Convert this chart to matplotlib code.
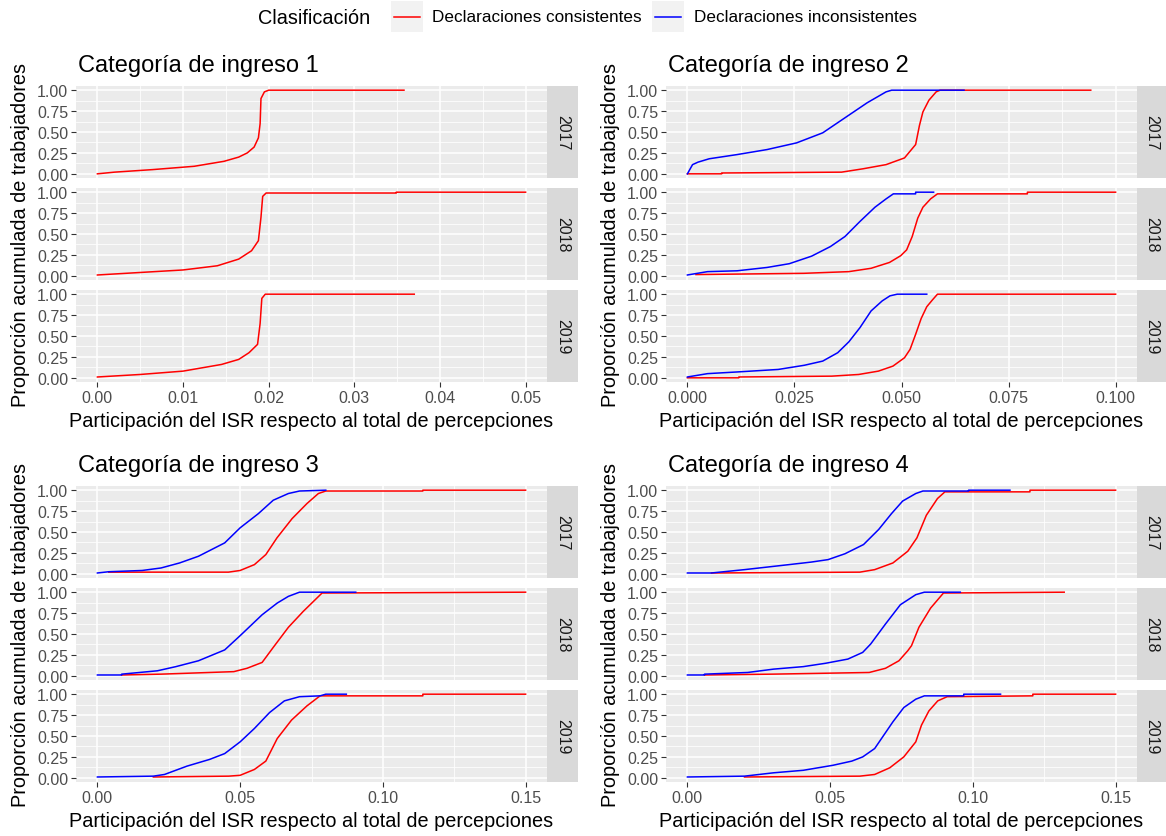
import matplotlib.pyplot as plt
from matplotlib.patches import Rectangle
from matplotlib.lines import Line2D
import numpy as np

plt.rcParams['font.family'] = ['Liberation Sans', 'DejaVu Sans']

years = ['2017', '2018', '2019']
categories = ['Categoría de ingreso 1', 'Categoría de ingreso 2',
              'Categoría de ingreso 3', 'Categoría de ingreso 4']
series_labels = ['Declaraciones consistentes', 'Declaraciones inconsistentes']
series_colors = ['#FF0000', '#0000FF']
legend_title = 'Clasificación'
xlabel = 'Participación del ISR respecto al total de percepciones'
ylabel = 'Proporción acumulada de trabajadores'

x_ticks = [[0.00, 0.01, 0.02, 0.03, 0.04, 0.05],
           [0.000, 0.025, 0.050, 0.075, 0.100],
           [0.00, 0.05, 0.10, 0.15],
           [0.00, 0.05, 0.10, 0.15]]
x_tick_labels = [['0.00', '0.01', '0.02', '0.03', '0.04', '0.05'],
                 ['0.000', '0.025', '0.050', '0.075', '0.100'],
                 ['0.00', '0.05', '0.10', '0.15'],
                 ['0.00', '0.05', '0.10', '0.15']]
y_ticks = [0.0, 0.25, 0.5, 0.75, 1.0]
y_tick_labels = ['0.00', '0.25', '0.50', '0.75', '1.00']

# --- cumulative curves ---
# categoria 1 (only consistent declarations)
c1_2017_cons_x = [0, 0.002, 0.0064, 0.0113, 0.0148, 0.0165, 0.0175, 0.0183, 0.0188, 0.019, 0.0191, 0.0195, 0.02, 0.0358]
c1_2017_cons_y = [0, 0.02, 0.05, 0.09, 0.15, 0.2, 0.25, 0.32, 0.43, 0.6, 0.9, 0.98, 1.0, 1.0]
c1_2018_cons_x = [0, 0.005, 0.01, 0.014, 0.0165, 0.018, 0.0188, 0.0191, 0.0193, 0.0197, 0.0349, 0.0349, 0.05]
c1_2018_cons_y = [0.01, 0.04, 0.07, 0.12, 0.2, 0.3, 0.42, 0.7, 0.95, 0.99, 0.99, 1.0, 1.0]
c1_2019_cons_x = [0, 0.005, 0.01, 0.0145, 0.0165, 0.0177, 0.0187, 0.019, 0.0192, 0.0196, 0.037]
c1_2019_cons_y = [0.01, 0.04, 0.08, 0.16, 0.22, 0.3, 0.4, 0.65, 0.95, 1.0, 1.0]

# categoria 2
c2_2017_cons_x = [0, 0.008, 0.008, 0.036, 0.041, 0.0464, 0.0507, 0.0533, 0.0542, 0.055, 0.0564, 0.0581, 0.059, 0.0942]
c2_2017_cons_y = [0, 0, 0.01, 0.02, 0.06, 0.11, 0.19, 0.35, 0.58, 0.74, 0.88, 0.98, 1.0, 1.0]
c2_2017_inc_x = [0, 0.0012, 0.0025, 0.0051, 0.0116, 0.0186, 0.0255, 0.0316, 0.0368, 0.042, 0.0464, 0.0477, 0.0646]
c2_2017_inc_y = [0, 0.11, 0.14, 0.18, 0.23, 0.29, 0.37, 0.49, 0.67, 0.85, 0.98, 1.0, 1.0]
c2_2018_cons_x = [0.002, 0.0272, 0.0377, 0.0429, 0.0472, 0.0498, 0.0512, 0.0525, 0.0538, 0.055, 0.0568, 0.0584, 0.0794, 0.0794, 0.1]
c2_2018_cons_y = [0.015, 0.03, 0.05, 0.09, 0.16, 0.24, 0.31, 0.47, 0.69, 0.82, 0.92, 0.98, 0.98, 1.0, 1.0]
c2_2018_inc_x = [0, 0.0047, 0.0116, 0.0186, 0.0238, 0.029, 0.0334, 0.0368, 0.0403, 0.0438, 0.0464, 0.0481, 0.0533, 0.0533, 0.0575]
c2_2018_inc_y = [0.01, 0.05, 0.06, 0.1, 0.145, 0.235, 0.35, 0.47, 0.65, 0.82, 0.92, 0.98, 0.98, 1.0, 1.0]
c2_2019_cons_x = [0, 0.012, 0.012, 0.0337, 0.04, 0.0446, 0.048, 0.0507, 0.052, 0.0533, 0.0546, 0.0559, 0.0572, 0.0584, 0.1]
c2_2019_cons_y = [0, 0, 0.01, 0.02, 0.04, 0.08, 0.14, 0.24, 0.34, 0.52, 0.71, 0.85, 0.93, 1.0, 1.0]
c2_2019_inc_x = [0, 0.0047, 0.0116, 0.0212, 0.0273, 0.0316, 0.0351, 0.0377, 0.0403, 0.0429, 0.0455, 0.0473, 0.049, 0.0559]
c2_2019_inc_y = [0.01, 0.05, 0.07, 0.1, 0.15, 0.2, 0.3, 0.43, 0.6, 0.8, 0.92, 0.98, 1.0, 1.0]

# categoria 3
c3_2017_cons_x = [0.004, 0.0459, 0.05, 0.055, 0.059, 0.0629, 0.0682, 0.0734, 0.0774, 0.08, 0.114, 0.114, 0.15]
c3_2017_cons_y = [0.02, 0.02, 0.04, 0.11, 0.23, 0.43, 0.66, 0.84, 0.96, 0.99, 0.99, 1.0, 1.0]
c3_2017_inc_x = [0, 0.004, 0.0157, 0.0223, 0.0288, 0.0354, 0.0446, 0.05, 0.0564, 0.0616, 0.0669, 0.0708, 0.08]
c3_2017_inc_y = [0.01, 0.025, 0.04, 0.07, 0.13, 0.21, 0.37, 0.55, 0.72, 0.88, 0.96, 0.99, 1.0]
c3_2018_cons_x = [0.0085, 0.0223, 0.0478, 0.0524, 0.0577, 0.0616, 0.0669, 0.0721, 0.0787, 0.15]
c3_2018_cons_y = [0.01, 0.02, 0.05, 0.09, 0.16, 0.34, 0.58, 0.77, 0.99, 1.0]
c3_2018_inc_x = [0, 0.0085, 0.0085, 0.021, 0.0275, 0.0354, 0.0446, 0.05, 0.0577, 0.063, 0.0669, 0.0708, 0.0905]
c3_2018_inc_y = [0.01, 0.01, 0.02, 0.06, 0.11, 0.18, 0.31, 0.48, 0.73, 0.87, 0.95, 1.0, 1.0]
c3_2019_cons_x = [0.0196, 0.046, 0.05, 0.055, 0.059, 0.063, 0.068, 0.0734, 0.078, 0.114, 0.114, 0.15]
c3_2019_cons_y = [0.01, 0.02, 0.03, 0.1, 0.2, 0.47, 0.69, 0.86, 0.98, 0.98, 1.0, 1.0]
c3_2019_inc_x = [0, 0.0196, 0.0235, 0.0314, 0.0393, 0.0446, 0.05, 0.055, 0.0603, 0.0655, 0.0708, 0.078, 0.08, 0.0872]
c3_2019_inc_y = [0.01, 0.02, 0.04, 0.14, 0.22, 0.29, 0.43, 0.59, 0.78, 0.92, 0.97, 0.98, 1.0, 1.0]

# categoria 4
c4_2017_cons_x = [0.0084, 0.0604, 0.0656, 0.072, 0.0772, 0.0804, 0.0837, 0.0876, 0.0902, 0.12, 0.12, 0.15]
c4_2017_cons_y = [0.01, 0.02, 0.05, 0.13, 0.27, 0.43, 0.70, 0.90, 0.98, 0.98, 1.0, 1.0]
c4_2017_inc_x = [0, 0.0084, 0.02, 0.033, 0.0433, 0.0493, 0.0552, 0.0617, 0.067, 0.0715, 0.0754, 0.08, 0.0825, 0.0985, 0.0985, 0.113]
c4_2017_inc_y = [0.01, 0.01, 0.05, 0.1, 0.14, 0.17, 0.24, 0.35, 0.53, 0.72, 0.87, 0.96, 0.99, 0.99, 1.0, 1.0]
c4_2018_cons_x = [0.006, 0.0298, 0.0637, 0.0694, 0.0741, 0.0772, 0.0785, 0.0811, 0.0852, 0.0897, 0.132]
c4_2018_cons_y = [0.01, 0.02, 0.04, 0.09, 0.18, 0.30, 0.36, 0.58, 0.81, 0.99, 1.0]
c4_2018_inc_x = [0, 0.006, 0.006, 0.0211, 0.0302, 0.0406, 0.0484, 0.0562, 0.0614, 0.0642, 0.0694, 0.0746, 0.08, 0.083, 0.0956]
c4_2018_inc_y = [0.01, 0.01, 0.02, 0.04, 0.08, 0.11, 0.15, 0.2, 0.28, 0.38, 0.62, 0.85, 0.97, 1.0, 1.0]
c4_2019_cons_x = [0.02, 0.0604, 0.0656, 0.0709, 0.0758, 0.08, 0.082, 0.0846, 0.0877, 0.091, 0.121, 0.121, 0.15]
c4_2019_cons_y = [0.01, 0.02, 0.04, 0.12, 0.25, 0.43, 0.63, 0.80, 0.92, 0.97, 0.98, 1.0, 1.0]
c4_2019_inc_x = [0, 0.02, 0.0302, 0.0406, 0.051, 0.0576, 0.0614, 0.0656, 0.0688, 0.072, 0.0758, 0.08, 0.083, 0.0968, 0.0968, 0.1097]
c4_2019_inc_y = [0.01, 0.02, 0.06, 0.09, 0.15, 0.2, 0.25, 0.35, 0.51, 0.67, 0.84, 0.94, 0.98, 0.98, 1.0, 1.0]

# [category][year] -> list of (series index, x, y)
curves = [
    [[(0, c1_2017_cons_x, c1_2017_cons_y)],
     [(0, c1_2018_cons_x, c1_2018_cons_y)],
     [(0, c1_2019_cons_x, c1_2019_cons_y)]],
    [[(0, c2_2017_cons_x, c2_2017_cons_y), (1, c2_2017_inc_x, c2_2017_inc_y)],
     [(0, c2_2018_cons_x, c2_2018_cons_y), (1, c2_2018_inc_x, c2_2018_inc_y)],
     [(0, c2_2019_cons_x, c2_2019_cons_y), (1, c2_2019_inc_x, c2_2019_inc_y)]],
    [[(0, c3_2017_cons_x, c3_2017_cons_y), (1, c3_2017_inc_x, c3_2017_inc_y)],
     [(0, c3_2018_cons_x, c3_2018_cons_y), (1, c3_2018_inc_x, c3_2018_inc_y)],
     [(0, c3_2019_cons_x, c3_2019_cons_y), (1, c3_2019_inc_x, c3_2019_inc_y)]],
    [[(0, c4_2017_cons_x, c4_2017_cons_y), (1, c4_2017_inc_x, c4_2017_inc_y)],
     [(0, c4_2018_cons_x, c4_2018_cons_y), (1, c4_2018_inc_x, c4_2018_inc_y)],
     [(0, c4_2019_cons_x, c4_2019_cons_y), (1, c4_2019_inc_x, c4_2019_inc_y)]],
]

W, H = 1166, 837
fig = plt.figure(figsize=(W / 100, H / 100), dpi=100)


def box(x0, y0, x1, y1):
    return [x0 / W, 1 - y1 / H, (x1 - x0) / W, (y1 - y0) / H]


# pixel layout: (plot left, plot right, strip right) and rows
cols = [(76, 547, 578), (666, 1137, 1166)]
rows = [[(87, 179), (189, 281), (291, 383)],
        [(487, 579), (589, 681), (691, 783)]]

TICK = 11.5
for k, cat in enumerate(categories):
    r, c = divmod(k, 2)
    x0, x1, xs = cols[c]
    allx = [v for yr in curves[k] for _, xx, _ in yr for v in xx]
    lo, hi = min(allx), max(allx)
    pad = 0.05 * (hi - lo)
    ticks = x_ticks[k]
    step = ticks[1] - ticks[0]
    minor = [t + step / 2 for t in ticks[:-1]]
    for j, year in enumerate(years):
        y0, y1 = rows[r][j]
        ax = fig.add_axes(box(x0, y0, x1, y1))
        ax.set_facecolor('#EBEBEB')
        for s in ax.spines.values():
            s.set_visible(False)
        ax.set_xlim(lo - pad, hi + pad)
        ax.set_ylim(-0.05, 1.05)
        ax.set_xticks(ticks)
        ax.set_xticks(minor, minor=True)
        ax.set_yticks(y_ticks)
        ax.set_yticks([0.125, 0.375, 0.625, 0.875], minor=True)
        ax.grid(which='major', color='white', linewidth=1.1)
        ax.grid(which='minor', color='white', linewidth=0.55)
        ax.set_axisbelow(True)
        ax.set_yticklabels(y_tick_labels)
        ax.tick_params(which='minor', length=0)
        ax.tick_params(which='major', length=3.6, width=0.8, color='#333333',
                       labelsize=TICK, labelcolor='#4D4D4D', pad=2)
        if j == 2:
            ax.set_xticklabels(x_tick_labels[k])
        else:
            ax.tick_params(axis='x', which='major', length=0, labelbottom=False)
        for si, xx, yy in curves[k][j]:
            ax.plot(xx, yy, color=series_colors[si], linewidth=1.1)

        sax = fig.add_axes(box(x1, y0, xs, y1))
        sax.set_facecolor('#D9D9D9')
        sax.set_xticks([])
        sax.set_yticks([])
        for s in sax.spines.values():
            s.set_visible(False)
        sax.text(0.5, 0.5, year, rotation=270, ha='center', va='center',
                 transform=sax.transAxes, fontsize=TICK, color='#1A1A1A')

    ytop = rows[r][0][0]
    fig.text((x0 + 2) / W, 1 - (ytop - 15) / H, cat, fontsize=17,
             ha='left', va='baseline', color='black')
    fig.text((x0 + x1) / 2 / W, 1 - (rows[r][2][1] + 44) / H, xlabel,
             fontsize=14.3, ha='center', va='baseline', color='black')
    fig.text((x0 - 55) / W, 1 - (rows[r][0][0] + rows[r][2][1]) / 2 / H, ylabel,
             fontsize=14.3, rotation=90, ha='center', va='center', color='black')

# legend on top
fig.text(258 / W, 1 - 18 / H, legend_title, fontsize=14.3, ha='left', va='center')
key_x = [391, 652]
text_x = [432, 694]
for i, lab in enumerate(series_labels):
    fig.patches.append(Rectangle((key_x[i] / W, 1 - 33 / H), 32 / W, 31 / H,
                                 transform=fig.transFigure, facecolor='#F2F2F2',
                                 edgecolor='none'))
    fig.lines.append(Line2D([(key_x[i] + 3) / W, (key_x[i] + 29) / W],
                            [1 - 18 / H, 1 - 18 / H], transform=fig.transFigure,
                            color=series_colors[i], linewidth=1.1))
    fig.text(text_x[i] / W, 1 - 18 / H, lab, fontsize=12.3, ha='left', va='center')

fig.savefig('out.png', dpi=100)
